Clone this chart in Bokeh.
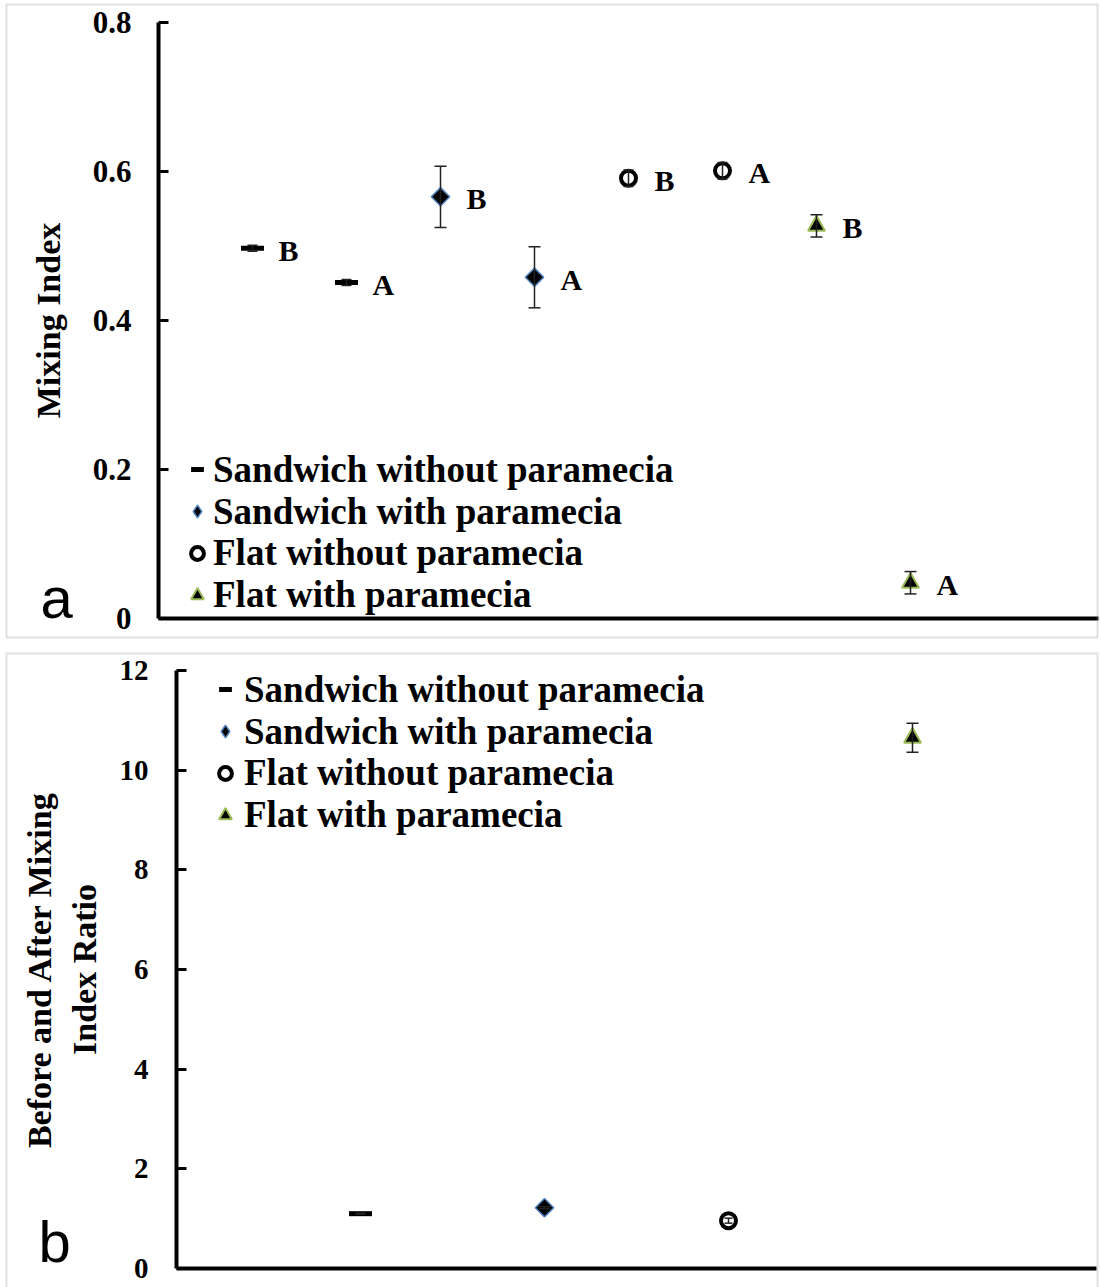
import math
from bokeh.plotting import figure
from bokeh.models import (Range1d, FixedTicker, Whisker, TeeHead, ColumnDataSource,
                          Legend, LegendItem, Label, BoxAnnotation, LinearAxis)
from bokeh.layouts import column
from bokeh.embed import file_html
from bokeh.resources import INLINE
from bokeh.core.properties import value

# ---------------- data ----------------
series_names = ["Sandwich without paramecia", "Sandwich with paramecia",
                "Flat without paramecia", "Flat with paramecia"]

# panel a: mixing index (two conditions per series)
a_x = [[1, 2], [3, 4], [5, 6], [7, 8]]
a_mean = [[0.497, 0.451], [0.566, 0.458], [0.591, 0.601], [0.527, 0.048]]
a_err = [[0.004, 0.004], [0.041, 0.041], [0.011, 0.011], [0.015, 0.015]]
a_letters = [["B", "A"], ["B", "A"], ["B", "A"], ["B", "A"]]
a_ticks = [0, 0.2, 0.4, 0.6, 0.8]
a_tick_labels = ["0", "0.2", "0.4", "0.6", "0.8"]

# panel b: before/after mixing index ratio
b_x = [1, 2, 3, 4]
b_ratio = [1.10, 1.22, 0.96, 10.65]
b_err = [0.01, 0.02, 0.05, 0.29]
b_ticks = [0, 2, 4, 6, 8, 10, 12]
b_tick_labels = ["0", "2", "4", "6", "8", "10", "12"]

SERIF = "Liberation Serif"
# (marker style drawn on the chart, marker style used for the legend swatch)
styles = [
    (dict(marker="dash", size=23, line_color="black", line_width=5, fill_color="black"), None),
    (dict(marker="square", size=13, angle=math.pi / 4, fill_color="black",
          line_color="#4f81bd", line_width=1.5),
     dict(marker="diamond", size=14, fill_color="black", line_color="#4f81bd", line_width=1.5)),
    (dict(marker="circle", size=15, fill_color="white", line_color="black", line_width=4), None),
    (dict(marker="triangle", size=17, fill_color="black", line_color="#9bbb59", line_width=2), None),
]


def make_panel(W, H, ax_px, x_unit_px, y0_px, y_unit_px, xmax, ymax, ticks, tick_labels,
               tick_font, tick_standoff, label, label_standoff):
    # frame covers the whole canvas; axes are pinned inside it
    xr = Range1d(-ax_px / x_unit_px, (W - ax_px) / x_unit_px)
    yr = Range1d(-(H - y0_px) / y_unit_px, y0_px / y_unit_px)
    p = figure(width=W, height=H, x_range=xr, y_range=yr,
               x_axis_type=None, y_axis_type=None,
               output_backend="svg", toolbar_location=None,
               min_border_left=0, min_border_right=0, min_border_top=0, min_border_bottom=0)
    p.grid.visible = False
    p.outline_line_color = None
    p.background_fill_color = "white"
    p.border_fill_color = "white"

    ya = LinearAxis(fixed_location=0, bounds=(0, ymax))
    ya.ticker = FixedTicker(ticks=ticks)
    ya.major_label_overrides = {t: s for t, s in zip(ticks, tick_labels)}
    ya.minor_tick_line_color = None
    ya.major_tick_in = 10
    ya.major_tick_out = 0
    ya.major_tick_line_width = 3
    ya.major_tick_line_color = "black"
    ya.axis_line_width = 4
    ya.axis_line_color = "black"
    ya.major_label_text_font = SERIF
    ya.major_label_text_font_style = "bold"
    ya.major_label_text_font_size = tick_font
    ya.major_label_text_color = "black"
    ya.major_label_standoff = tick_standoff
    ya.axis_label = label
    ya.axis_label_text_font = SERIF
    ya.axis_label_text_font_style = "bold"
    ya.axis_label_text_font_size = "34px"
    ya.axis_label_text_color = "black"
    ya.axis_label_standoff = label_standoff
    p.add_layout(ya, "left")

    xa = LinearAxis(fixed_location=0, bounds=(0, xmax))
    xa.ticker = FixedTicker(ticks=[])
    xa.minor_tick_line_color = None
    xa.major_tick_line_color = None
    xa.major_label_text_font_size = "0px"
    xa.axis_line_width = 4
    xa.axis_line_color = "black"
    p.add_layout(xa, "below")
    return p


def add_series(p, xs, ys, errs, style_pair, cap):
    style, legend_style = style_pair
    src = ColumnDataSource(dict(x=xs, y=ys, lo=[y - e for y, e in zip(ys, errs)],
                                hi=[y + e for y, e in zip(ys, errs)]))
    leg_r = None
    if legend_style is not None:
        # drawn underneath the visible marker; only its swatch shows, in the legend
        leg_r = p.scatter("x", "y", source=src, **legend_style)
    r = p.scatter("x", "y", source=src, **style)
    w = Whisker(base="x", upper="hi", lower="lo", source=src, dimension="height",
                line_color="#222222", line_width=1.5, level="annotation",
                upper_head=TeeHead(size=cap, line_color="#222222", line_width=1.5),
                lower_head=TeeHead(size=cap, line_color="#222222", line_width=1.5))
    p.add_layout(w)
    return leg_r if leg_r is not None else r


def add_legend(p, renderers, x, y_bottom, pitch, standoff):
    # one single-row legend per entry so the row pitch can be set exactly
    n = len(renderers)
    for k, (name, r) in enumerate(zip(series_names, renderers)):
        leg = Legend(items=[LegendItem(label=name, renderers=[r])],
                     location=(x, y_bottom + (n - 1 - k) * pitch), padding=0, spacing=0,
                     glyph_width=32, glyph_height=32, label_height=38,
                     label_standoff=standoff,
                     label_text_font=SERIF, label_text_font_style="bold",
                     label_text_font_size="37px", label_text_color="black",
                     border_line_color=None, background_fill_alpha=0)
        p.add_layout(leg)


def add_border(p, ax_px, x_unit_px, y0_px, y_unit_px, l, r, t, b):
    px2x = lambda v: (v - ax_px) / x_unit_px
    py2y = lambda v: (y0_px - v) / y_unit_px
    p.add_layout(BoxAnnotation(left=px2x(l), right=px2x(r), top=py2y(t), bottom=py2y(b),
                               fill_alpha=0, line_color="#9a9a9a", line_width=2,
                               level="overlay"))


# ---------------- panel a ----------------
WA, HA = 1101, 640
geo_a = dict(ax_px=158, x_unit_px=94.0, y0_px=618, y_unit_px=745.0)
pa = make_panel(WA, HA, xmax=10, ymax=0.8, ticks=a_ticks, tick_labels=a_tick_labels,
                tick_font="31px", tick_standoff=27, label="Mixing Index",
                label_standoff=23, **geo_a)
rend_a = []
caps_a = [10, 12, 10, 12]
for i in range(4):
    rend_a.append(add_series(pa, a_x[i], a_mean[i], a_err[i], styles[i], caps_a[i]))
    pa.text(x=a_x[i], y=a_mean[i], text=a_letters[i], x_offset=26, y_offset=2,
            text_baseline="middle", text_align="left", text_font=value(SERIF),
            text_font_style="bold", text_font_size="30px", text_color="black")
add_legend(pa, rend_a, 181, 24, 41.7, 0)
pa.add_layout(Label(x=40, y=43, x_units="screen", y_units="screen", text="a",
                    text_font="Liberation Sans", text_font_size="58px",
                    text_color="black", text_baseline="alphabetic"))
add_border(pa, l=6, r=1097, t=4, b=637, **geo_a)

# ---------------- panel b ----------------
WB, HB = 1101, 647
geo_b = dict(ax_px=176, x_unit_px=184.0, y0_px=628, y_unit_px=598.0 / 12)
pb = make_panel(WB, HB, xmax=5, ymax=12, ticks=b_ticks, tick_labels=b_tick_labels,
                tick_font="29px", tick_standoff=28,
                label="Before and After Mixing\nIndex Ratio", label_standoff=14, **geo_b)
rend_b = []
caps_b = [10, 12, 8, 12]
for i in range(4):
    rend_b.append(add_series(pb, [b_x[i]], [b_ratio[i]], [b_err[i]], styles[i], caps_b[i]))
add_legend(pb, rend_b, 209, 451, 41.7, 3)
pb.add_layout(Label(x=38, y=46, x_units="screen", y_units="screen", text="b",
                    text_font="Liberation Sans", text_font_size="58px",
                    text_color="black", text_baseline="alphabetic"))
add_border(pb, l=6, r=1097, t=13, b=700, **geo_b)

layout = column(pa, pb, spacing=0)
open("out.html", "w").write(file_html(layout, INLINE))
